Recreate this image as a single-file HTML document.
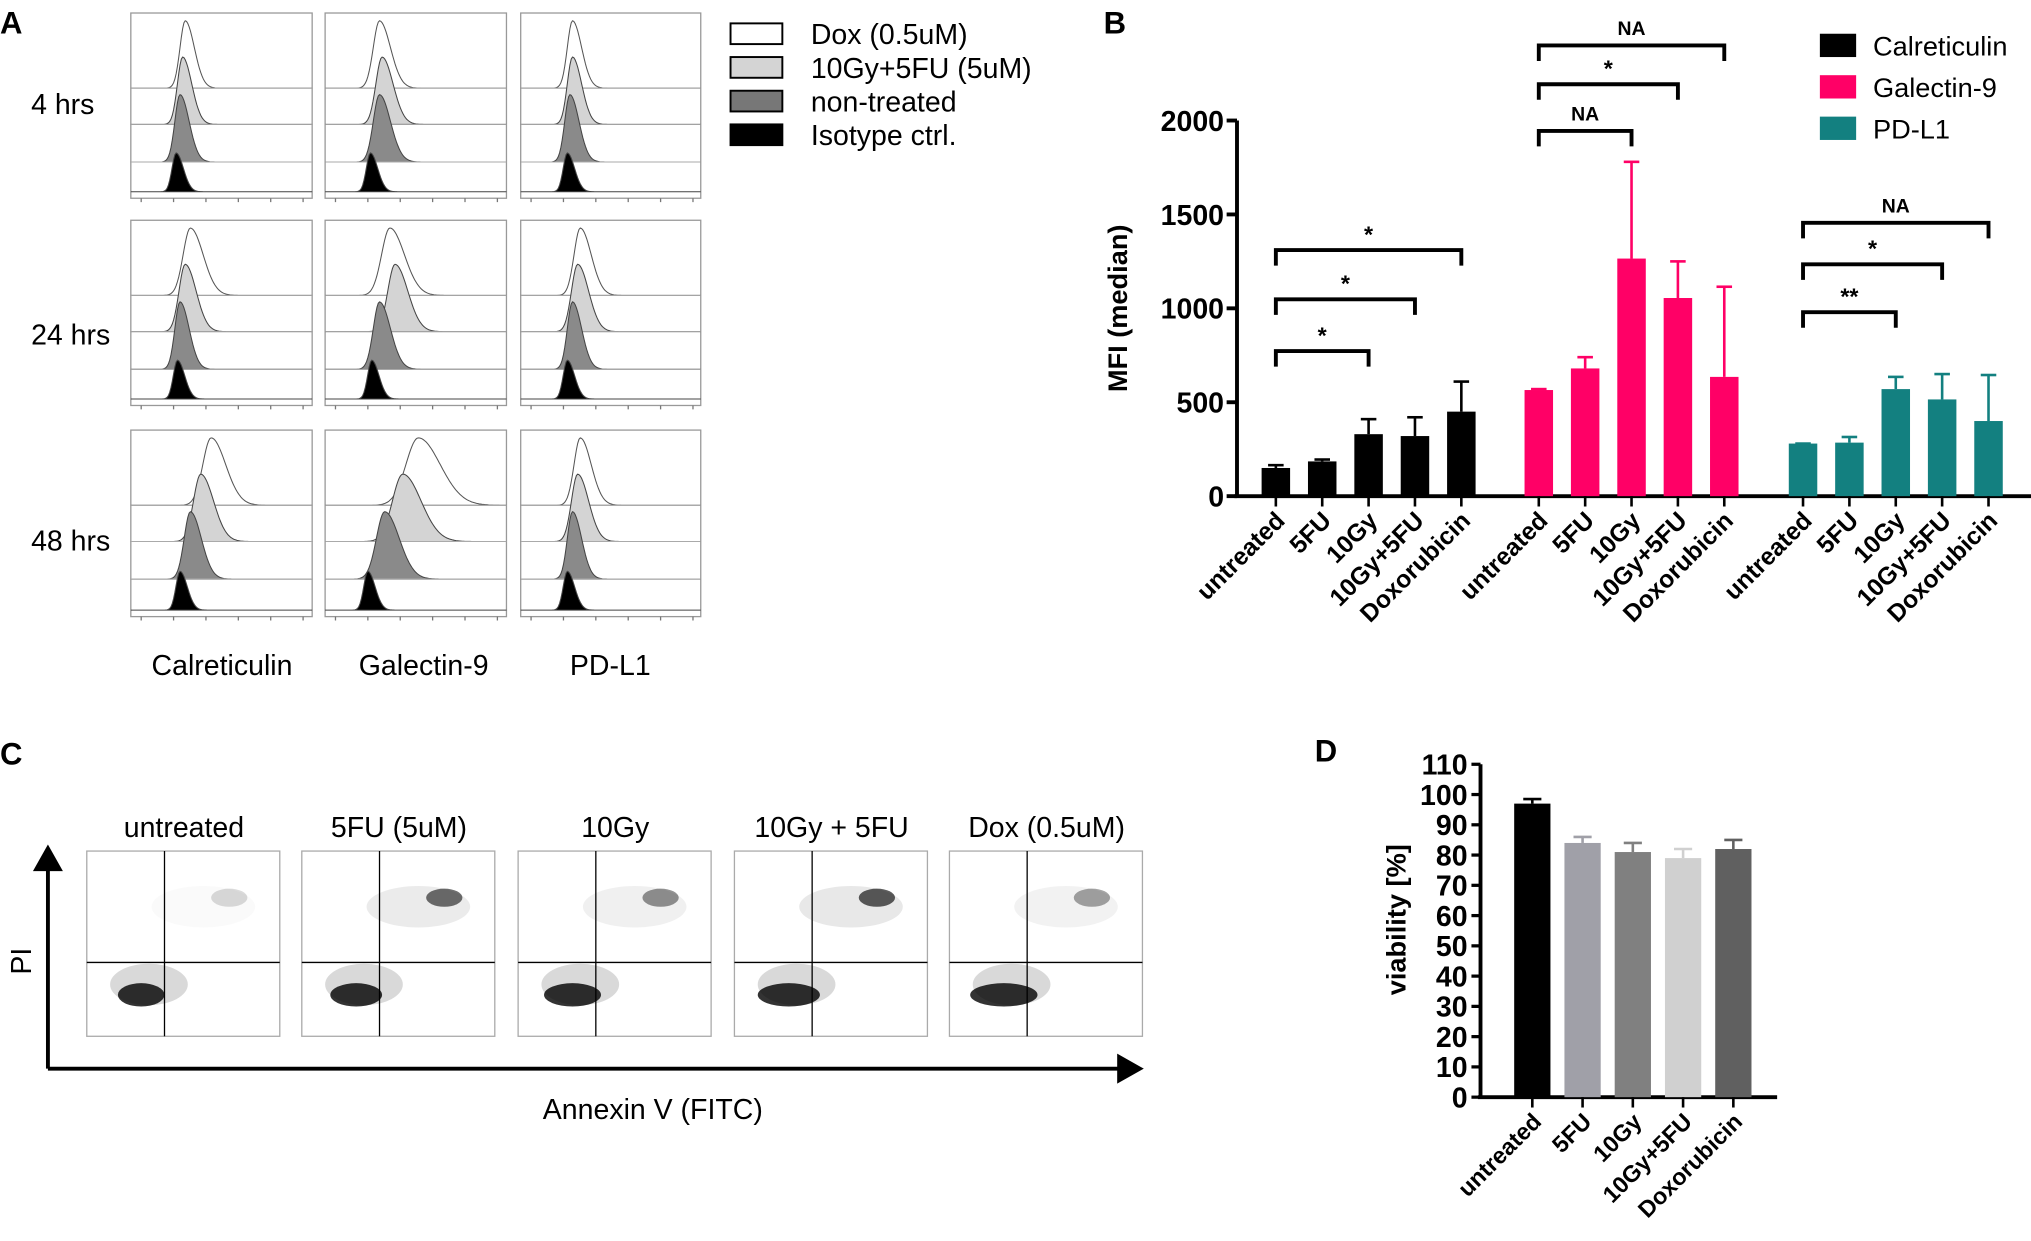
<!DOCTYPE html>
<html><head><meta charset="utf-8"><style>
html,body{margin:0;padding:0;background:#fff}
svg{display:block}
text{font-family:"Liberation Sans",sans-serif}
</style></head><body>
<svg id="s" width="2031" height="1241" viewBox="0 0 1568 958" xmlns="http://www.w3.org/2000/svg">
<g font-weight="bold" font-size="24">
<text x="0" y="26">A</text>
<text x="852" y="26">B</text>
<text x="0" y="590">C</text>
<text x="1015" y="588">D</text>
</g>
<g id="A"></g>
<g id="B"></g>
<g id="C"></g>
<g id="D"></g>
</svg>
<script>
const NS="http://www.w3.org/2000/svg";
function el(p,t,a,txt){const e=document.createElementNS(NS,t);for(const k in a)e.setAttribute(k,a[k]);if(txt!==undefined)e.textContent=txt;p.appendChild(e);return e;}

// ---- Panel B data ----
const bCategories=["untreated","5FU","10Gy","10Gy+5FU","Doxorubicin"];
const bSeriesNames=["Calreticulin","Galectin-9","PD-L1"];
const calrValues=[150,185,330,320,450];
const calrErr=[165,195,410,420,610];
const galValues=[565,680,1265,1055,635];
const galErr=[570,740,1780,1250,1115];
const pdl1Values=[280,285,570,515,400];
const pdl1Err=[280,315,635,650,645];
const bTicks=[0,500,1000,1500,2000];
// ---- Panel D data ----
const dCategories=["untreated","5FU","10Gy","10Gy+5FU","Doxorubicin"];
const dValues=[97,84,81,79,82];
const dErr=[98.5,86,84,82,85];
const dTicks=[0,10,20,30,40,50,60,70,80,90,100,110];

// ---- Panel A ----
(function(){
const g=document.getElementById('A');
const cols=[101,251,402],colW=[140,140,139];
const rows=[10,170,332],rowH=[143,143,144];
const rowLabels=["4 hrs","24 hrs","48 hrs"];
const labelY=[88,266,425];
const fills=["#ffffff","#d4d4d4","#8a8a8a","#000000"];
const peaks=[[[42,40,38,35],[42,44,42,35],[40,40,38,36]],
 [[46,42,38,36],[50,54,42,36],[46,44,40,36]],
 [[62,54,46,38],[72,60,46,33],[46,44,40,36]]];
const widths=[[[5,5,5,4],[6,6,6,4],[5,5,5,4]],[[7,6,5,4],[8,7,6,4],[6,6,5,4]],[[8,7,6,4],[12,10,8,4],[6,6,5,4]]];
rows.forEach((ry,ri)=>{
 el(g,'text',{x:24,y:labelY[ri],'font-size':22,},rowLabels[ri]);
 cols.forEach((cx,ci)=>{
  const w=colW[ci],h=rowH[ri];
  el(g,'rect',{x:cx,y:ry,width:w,height:h,fill:'#fff',stroke:'#999','stroke-width':1,});
  const bases=[ry+58,ry+86,ry+115,ry+h-5];
  for(let l=0;l<4;l++){
   const b=bases[l],pk=cx+peaks[ri][ci][l],sw=widths[ri][ci][l];
   const hh=l==3?30:52;
   let d=`M${cx} ${b}`;
   for(let x=0;x<=w;x+=1){const X=cx+x;const z=(X-pk)/(X<pk?sw*0.8:sw*1.4);d+=` L${X} ${(b-hh*Math.exp(-z*z/2)).toFixed(1)}`;}
   d+=` L${cx+w} ${b} Z`;
   el(g,'path',{d:d,fill:fills[l],stroke:l==0?'#555':'#444','stroke-width':0.8,});
   if(l<3)el(g,'line',{x1:cx,x2:cx+w,y1:b,y2:b,stroke:'#aaa','stroke-width':0.8});
  }
  for(let t=0;t<6;t++)el(g,'line',{x1:cx+8+t*25,x2:cx+8+t*25,y1:ry+h,y2:ry+h+3,stroke:'#777'});
 });
});
[["Calreticulin",117],["Galectin-9",277],["PD-L1",440]].forEach(([t,x])=>el(g,'text',{x:x,y:521,'font-size':22,},t));
const leg=[["Dox (0.5uM)","#fff"],["10Gy+5FU (5uM)","#d4d4d4"],["non-treated","#777"],["Isotype ctrl.","#000"]];
leg.forEach(([t,f],i)=>{const y=18+i*26;
 el(g,'rect',{x:564,y:y,width:40,height:16,fill:f,stroke:'#000','stroke-width':1.5,});
 el(g,'text',{x:626,y:y+16,'font-size':22,},t);});
})();

// ---- Panel B ----
(function(){
const g=document.getElementById('B');
const x0=955,yB=383,yT=93,vmax=2000;
const y=v=>yB-(v/vmax)*(yB-yT);
const groupStart=[985,1188,1392],step=35.8,bw=22;
const xc=(gi,i)=>groupStart[gi]+i*step;
const colors=["#000000","#ff0066","#138080"];
const vals=[calrValues,galValues,pdl1Values],errs=[calrErr,galErr,pdl1Err];
el(g,'line',{x1:x0,x2:x0,y1:yT,y2:yB,stroke:'#000','stroke-width':3,});
el(g,'line',{x1:x0-2,x2:1568,y1:yB,y2:yB,stroke:'#000','stroke-width':3,});
bTicks.forEach(t=>{el(g,'line',{x1:x0-8,x2:x0,y1:y(t),y2:y(t),stroke:'#000','stroke-width':3});
 el(g,'text',{x:x0-10,y:y(t)+8,'text-anchor':'end','font-size':22,'font-weight':'bold',},t);});
el(g,'text',{transform:'translate(870,238) rotate(-90)','text-anchor':'middle','font-size':21,'font-weight':'bold',},'MFI (median)');
vals.forEach((vs,gi)=>vs.forEach((v,i)=>{const cx=xc(gi,i);
 el(g,'line',{x1:cx,x2:cx,y1:y(errs[gi][i]),y2:y(v),stroke:colors[gi],'stroke-width':2,});
 el(g,'line',{x1:cx-6,x2:cx+6,y1:y(errs[gi][i]),y2:y(errs[gi][i]),stroke:colors[gi],'stroke-width':2});
 const r=el(g,'rect',{x:cx-bw/2,y:y(v),width:bw,height:yB-y(v),fill:colors[gi]});
 
 
 el(g,'line',{x1:cx,x2:cx,y1:yB,y2:yB+8,stroke:'#000','stroke-width':2});
 el(g,'text',{transform:`translate(${cx+8},${yB+20}) rotate(-45)`,'text-anchor':'end','font-size':19,'font-weight':'bold',},bCategories[i]);
}));
const br=[[0,2,271,"*"],[0,3,231,"*"],[0,4,193,"*"],[1,2,101,"NA"],[1,3,65,"*"],[1,4,35,"NA"],[2,2,241,"**"],[2,3,204,"*"],[2,4,172,"NA"]];
br.forEach(([gi,j,yy,l])=>{const a=xc(gi,0),b=xc(gi,j);
 el(g,'path',{d:`M${a} ${yy+12}V${yy}H${b}V${yy+12}`,fill:'none',stroke:'#000','stroke-width':3,});
 el(g,'text',{x:(a+b)/2,y:yy-6-(l=='NA'?2:0),'text-anchor':'middle','font-size':l=='NA'?15:18,'font-weight':'bold',},l);});
bSeriesNames.forEach((n,i)=>{const yy=26+i*32;
 el(g,'rect',{x:1405,y:yy,width:28,height:18,fill:colors[i],});
 el(g,'text',{x:1446,y:yy+17,'font-size':21,},n);});
})();

// ---- Panel C ----
(function(){
const g=document.getElementById('C');
const xs=[67,233,400,567,733],titles=["untreated","5FU (5uM)","10Gy","10Gy + 5FU","Dox (0.5uM)"];
const up=[0.2,0.8,0.6,0.9,0.5];
xs.forEach((x,i)=>{
 el(g,'text',{x:x+75,y:646,'text-anchor':'middle','font-size':22,},titles[i]);
 el(g,'rect',{x:x,y:657,width:149,height:143,fill:'#fff',stroke:'#aaa',});
 el(g,'ellipse',{cx:x+42,cy:768,rx:18+i*2,ry:9,fill:'#000',opacity:0.8,});
 el(g,'ellipse',{cx:x+48,cy:760,rx:30,ry:16,fill:'#000',opacity:0.15});
 el(g,'ellipse',{cx:x+110,cy:693,rx:14,ry:7,fill:'#000',opacity:up[i]*0.7,});
 el(g,'ellipse',{cx:x+90,cy:700,rx:40,ry:16,fill:'#000',opacity:up[i]*0.1});
 el(g,'line',{x1:x+60,x2:x+60,y1:657,y2:800,stroke:'#000','stroke-width':1});
 el(g,'line',{x1:x,x2:x+149,y1:743,y2:743,stroke:'#000','stroke-width':1});
});
el(g,'path',{d:'M37 825V668 M37 655 l-9 16 h18 z M37 825H868 M880 825 l-16 -9 v18 z',stroke:'#000','stroke-width':3,fill:'#000',});
el(g,'text',{transform:'translate(24,742) rotate(-90)','text-anchor':'middle','font-size':22,},'PI');
el(g,'text',{x:504,y:864,'text-anchor':'middle','font-size':22,},'Annexin V (FITC)');
})();

// ---- Panel D ----
(function(){
const g=document.getElementById('D');
const x0=1143,yB=847,yT=590,vmax=110;
const y=v=>yB-(v/vmax)*(yB-yT);
const colors=["#000","#a0a0a8","#808080","#d0d0d0","#606060"];
const xc=i=>1183+i*38.8,bw=28;
el(g,'line',{x1:x0,x2:x0,y1:yT,y2:yB,stroke:'#000','stroke-width':3,});
el(g,'line',{x1:x0-2,x2:1372,y1:yB,y2:yB,stroke:'#000','stroke-width':3,});
dTicks.forEach(t=>{el(g,'line',{x1:x0-7,x2:x0,y1:y(t),y2:y(t),stroke:'#000','stroke-width':2.5});
 el(g,'text',{x:x0-10,y:y(t)+8,'text-anchor':'end','font-size':22,'font-weight':'bold',},t);});
el(g,'text',{transform:'translate(1085,710) rotate(-90)','text-anchor':'middle','font-size':21,'font-weight':'bold',},'viability [%]');
dValues.forEach((v,i)=>{const cx=xc(i);
 el(g,'line',{x1:cx,x2:cx,y1:y(dErr[i]),y2:y(v),stroke:colors[i],'stroke-width':2});
 el(g,'line',{x1:cx-7,x2:cx+7,y1:y(dErr[i]),y2:y(dErr[i]),stroke:colors[i],'stroke-width':2});
 const r=el(g,'rect',{x:cx-bw/2,y:y(v),width:bw,height:yB-y(v),fill:colors[i]});
 
 
 el(g,'line',{x1:cx,x2:cx,y1:yB,y2:yB+8,stroke:'#000','stroke-width':2});
 el(g,'text',{transform:`translate(${cx+8},${yB+20}) rotate(-45)`,'text-anchor':'end','font-size':18,'font-weight':'bold',},dCategories[i]);
});
})();
</script>
</body></html>
